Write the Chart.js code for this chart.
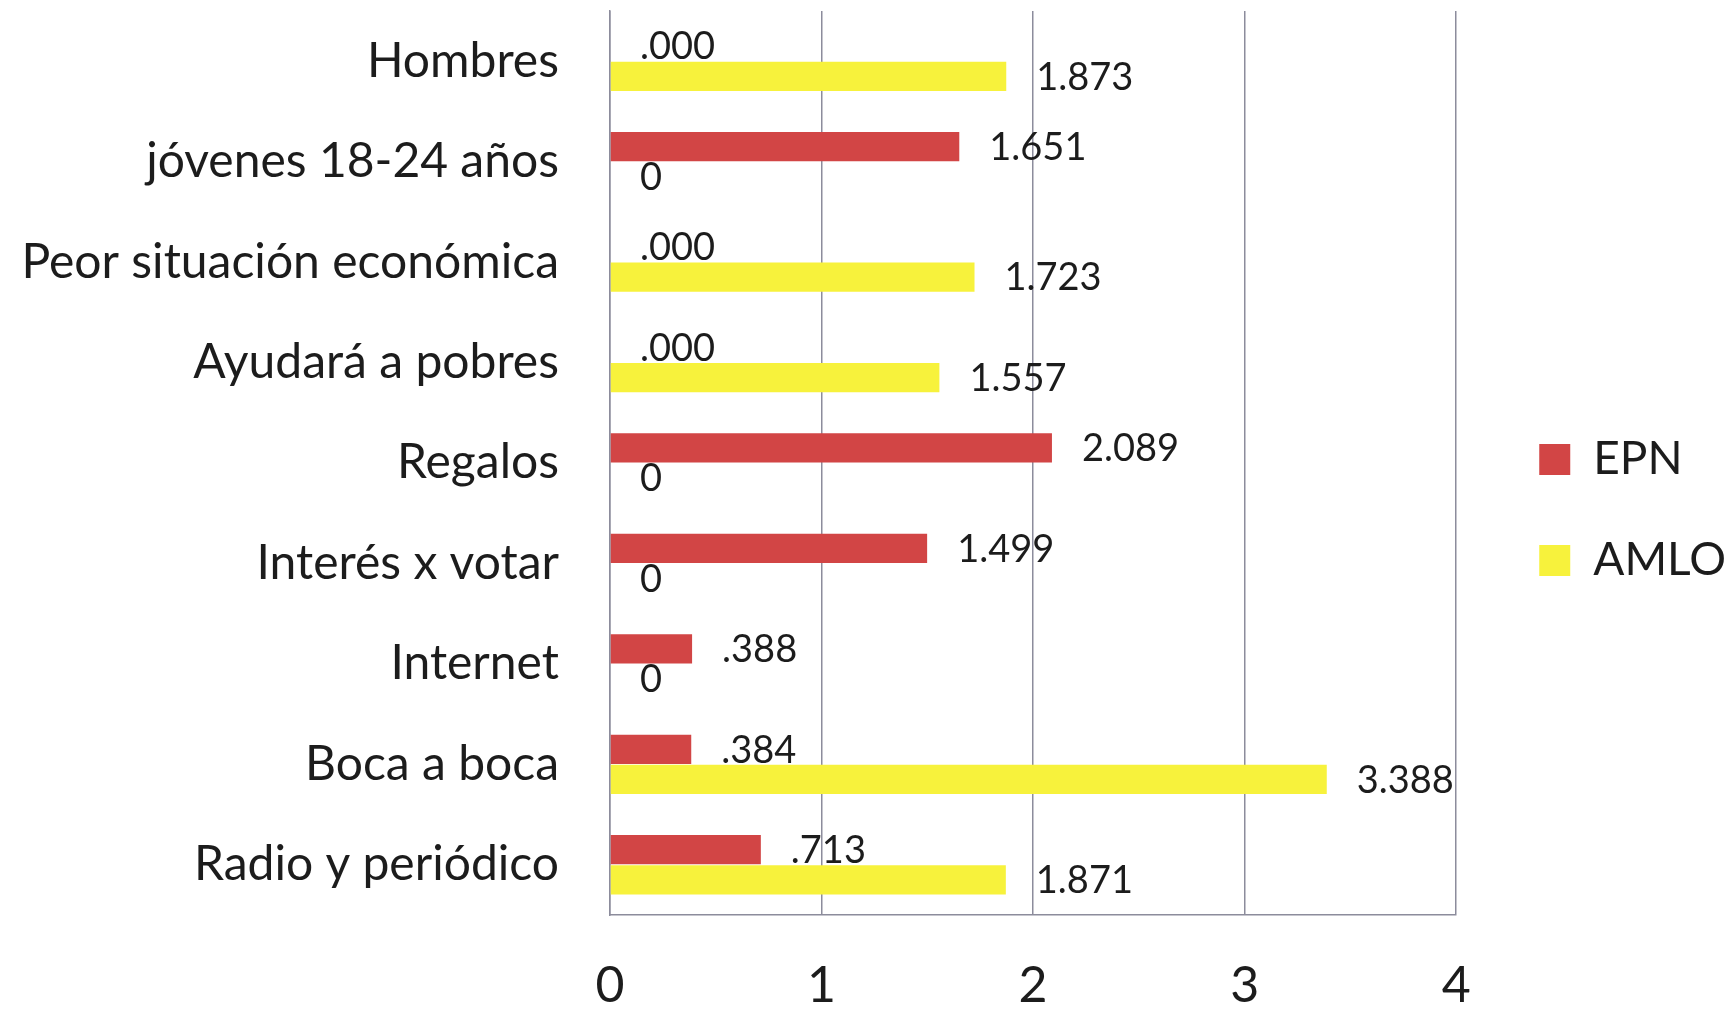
<!DOCTYPE html>
<html>
<head>
<meta charset="utf-8">
<script src="https://cdn.jsdelivr.net/npm/chart.js@4.4.1/dist/chart.umd.min.js"></script>
<style>
  body { margin: 0; background: #fff; }
  #wrap { width: 1736px; height: 1009px; }
</style>
</head>
<body>
<div id="wrap"><canvas id="myChart" width="1736" height="1009"></canvas></div>
<script>
var categories = ["Hombres", "jóvenes 18-24 años", "Peor situación económica", "Ayudará a pobres",
    "Regalos", "Interés x votar", "Internet", "Boca a boca", "Radio y periódico"];
var epnValues = [0, 1.651, 0, 0, 2.089, 1.499, 0.388, 0.384, 0.713];
var amloValues = [1.873, 0, 1.723, 1.557, 0, 0, 0, 3.388, 1.871];
var epnLabels = [".000", "1.651", ".000", ".000", "2.089", "1.499", ".388", ".384", ".713"];
var amloLabels = ["1.873", "0", "1.723", "1.557", "0", "0", "0", "3.388", "1.871"];
var xTicks = [0, 1, 2, 3, 4];

var fontFamily = "Lato, 'Open Sans', sans-serif";
var textColor = '#1c1c1c';
var gridColor = '#8c8c9c';

// value labels drawn to the right of each bar
var valueLabels = {
    id: 'valueLabels',
    afterDatasetsDraw: function(chart) {
        var ctx = chart.ctx;
        var allLabels = [epnLabels, amloLabels];
        ctx.save();
        ctx.font = '38px ' + fontFamily;
        ctx.fillStyle = textColor;
        ctx.textAlign = 'left';
        ctx.textBaseline = 'middle';
        chart.data.datasets.forEach(function(ds, di) {
            chart.getDatasetMeta(di).data.forEach(function(bar, i) {
                ctx.fillText(allLabels[di][i], bar.x + 30, bar.y + 1);
            });
        });
        ctx.restore();
    }
};

var ctx = document.getElementById("myChart").getContext('2d');
var myChart = new Chart(ctx, {
    type: 'bar',
    data: {
        labels: categories,
        datasets: [{
            label: 'EPN',
            data: epnValues,
            backgroundColor: '#d24545'
        }, {
            label: 'AMLO',
            data: amloValues,
            backgroundColor: '#f7f23c'
        }]
    },
    options: {
        indexAxis: 'y',
        responsive: false,
        animation: false,
        categoryPercentage: 0.6,
        barPercentage: 0.97,
        layout: { padding: { top: 11, right: 0, left: 0, bottom: 0 } },
        scales: {
            x: {
                min: 0,
                max: 4,
                afterBuildTicks: function(axis) {
                    axis.ticks = xTicks.map(function(v) { return { value: v }; });
                },
                afterFit: function(axis) {
                    axis.height = 94;
                },
                grid: { color: gridColor, lineWidth: 1.5, drawTicks: false },
                border: { color: gridColor, width: 1.5 },
                ticks: { padding: 41, color: textColor, font: { family: fontFamily, size: 50 } }
            },
            y: {
                afterFit: function(axis) {
                    axis.width = 610;
                    axis.paddingTop = 0;
                    axis.paddingBottom = 0;
                },
                grid: { display: false, drawTicks: false },
                border: { color: gridColor, width: 1.5 },
                ticks: { padding: 51, color: textColor, font: { family: fontFamily, size: 48 } }
            },
            // empty spacer between the plot and the legend
            gap: {
                type: 'linear',
                position: 'right',
                afterFit: function(axis) {
                    axis.width = 28;
                    axis.paddingTop = 0;
                    axis.paddingBottom = 0;
                },
                grid: { display: false },
                border: { display: false },
                ticks: { display: false }
            }
        },
        plugins: {
            legend: {
                position: 'right',
                labels: {
                    boxWidth: 31,
                    boxHeight: 31,
                    padding: 55,
                    color: textColor,
                    font: { family: fontFamily, size: 46 }
                }
            },
            tooltip: { enabled: false }
        }
    },
    plugins: [valueLabels]
});
</script>
</body>
</html>
